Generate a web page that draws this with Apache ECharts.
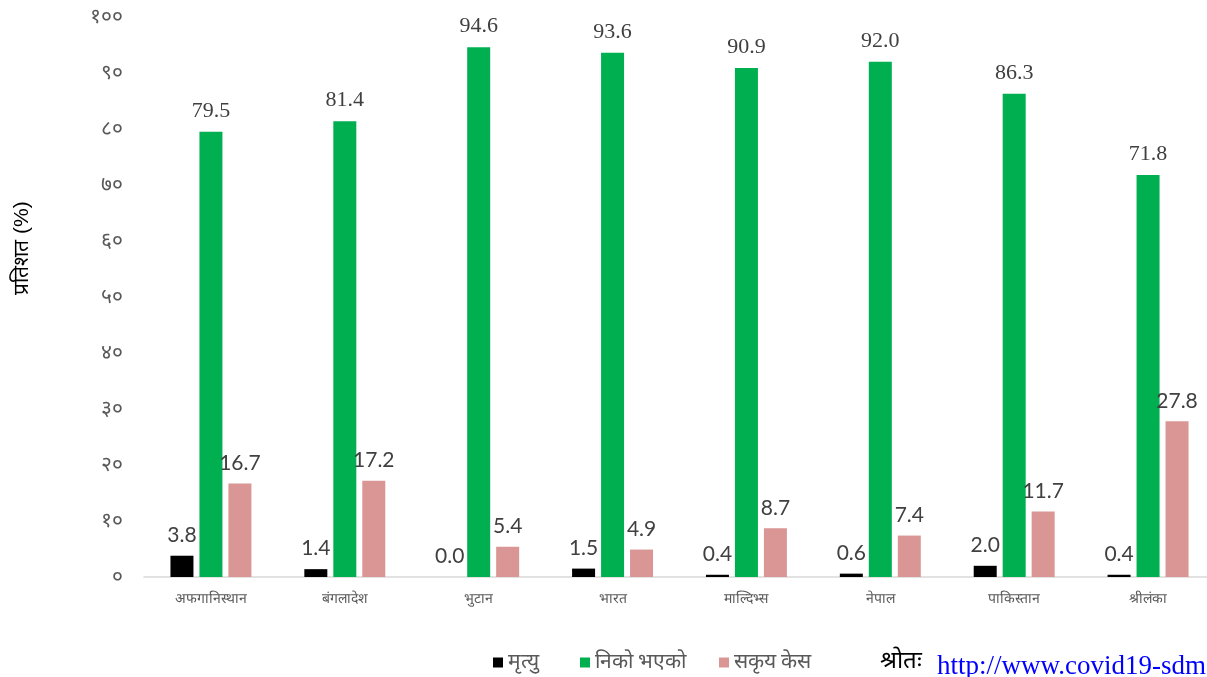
<!DOCTYPE html>
<html>
<head>
<meta charset="utf-8">
<script src="https://cdn.jsdelivr.net/npm/echarts@6/dist/echarts.min.js"></script>
<style>
html,body{margin:0;padding:0;background:#fff;overflow:hidden;}
#main{width:1230px;height:677px;}
</style>
</head>
<body>
<div id="main"></div>
<script>
const categories = ['अफगानिस्थान','बंगलादेश','भुटान','भारत','माल्दिभ्स','नेपाल','पाकिस्तान','श्रीलंका'];
const seriesNames = ['मृत्यु','निको भएको','सकृय केस'];
const deaths = [3.8, 1.4, 0.0, 1.5, 0.4, 0.6, 2.0, 0.4];
const recovered = [79.5, 81.4, 94.6, 93.6, 90.9, 92.0, 86.3, 71.8];
const active = [16.7, 17.2, 5.4, 4.9, 8.7, 7.4, 11.7, 27.8];
const yTickLabels = ['०','१०','२०','३०','४०','५०','६०','७०','८०','९०','१००'];
const yTitle = 'प्रतिशत (%)';
const sourceLabel = 'श्रोतः';
const sourceUrl = 'http://www.covid19-sdmc.org';

const chart = echarts.init(document.getElementById('main'));
const sansLabel = {show:true, position:'top', distance:10, color:'#404040', fontFamily:'Lato, "Open Sans", sans-serif', fontSize:21, formatter:p=>p.value.toFixed(1)};
const serifLabel = {show:true, position:'top', distance:10, color:'#404040', fontFamily:'"Liberation Serif", serif', fontSize:22, formatter:p=>p.value.toFixed(1)};
const legendBase = {top:647, icon:'rect', itemWidth:10, itemHeight:10, itemGap:5, textStyle:{color:'#595959', fontSize:21, fontFamily:'serif'}};
chart.setOption({
  animation:false,
  grid:{left:144, top:17, width:1071, height:560, containLabel:false},
  xAxis:{type:'category', data:categories,
    axisLine:{lineStyle:{color:'#d9d9d9', width:1.5}}, axisTick:{show:false},
    axisLabel:{color:'#595959', fontSize:14, margin:15, fontFamily:'serif'}},
  yAxis:{type:'value', min:0, max:100, interval:10,
    axisLine:{show:false}, axisTick:{show:false}, splitLine:{show:false},
    axisLabel:{color:'#595959', fontSize:21, margin:21, formatter:v=>yTickLabels[Math.round(v/10)]}},
  legend:[
    Object.assign({}, legendBase, {left:488, data:[seriesNames[0]]}),
    Object.assign({}, legendBase, {left:575, data:[seriesNames[1]]}),
    Object.assign({}, legendBase, {left:714, data:[seriesNames[2]]})
  ],
  series:[
    {name:seriesNames[0], type:'bar', data:deaths, barWidth:23, barGap:'26%', itemStyle:{color:'#000000'}, label:sansLabel},
    {name:seriesNames[1], type:'bar', data:recovered, barWidth:23, barGap:'26%', itemStyle:{color:'#00b050'}, label:serifLabel},
    {name:seriesNames[2], type:'bar', data:active, barWidth:23, barGap:'26%', itemStyle:{color:'#da9694'}, label:sansLabel}
  ],
  graphic:[
    {type:'text', x:22, y:248, rotation:Math.PI/2, style:{text:yTitle, fill:'#000', fontSize:21, align:'center', verticalAlign:'middle'}},
    {type:'text', left:880, top:650, style:{text:sourceLabel, fill:'#000', fontSize:24, fontFamily:'serif'}},
    {type:'text', left:937, top:653, style:{text:sourceUrl, fill:'#0000ff', fontSize:27, fontFamily:'"Liberation Serif", serif'}}
  ]
});
</script>
</body>
</html>
